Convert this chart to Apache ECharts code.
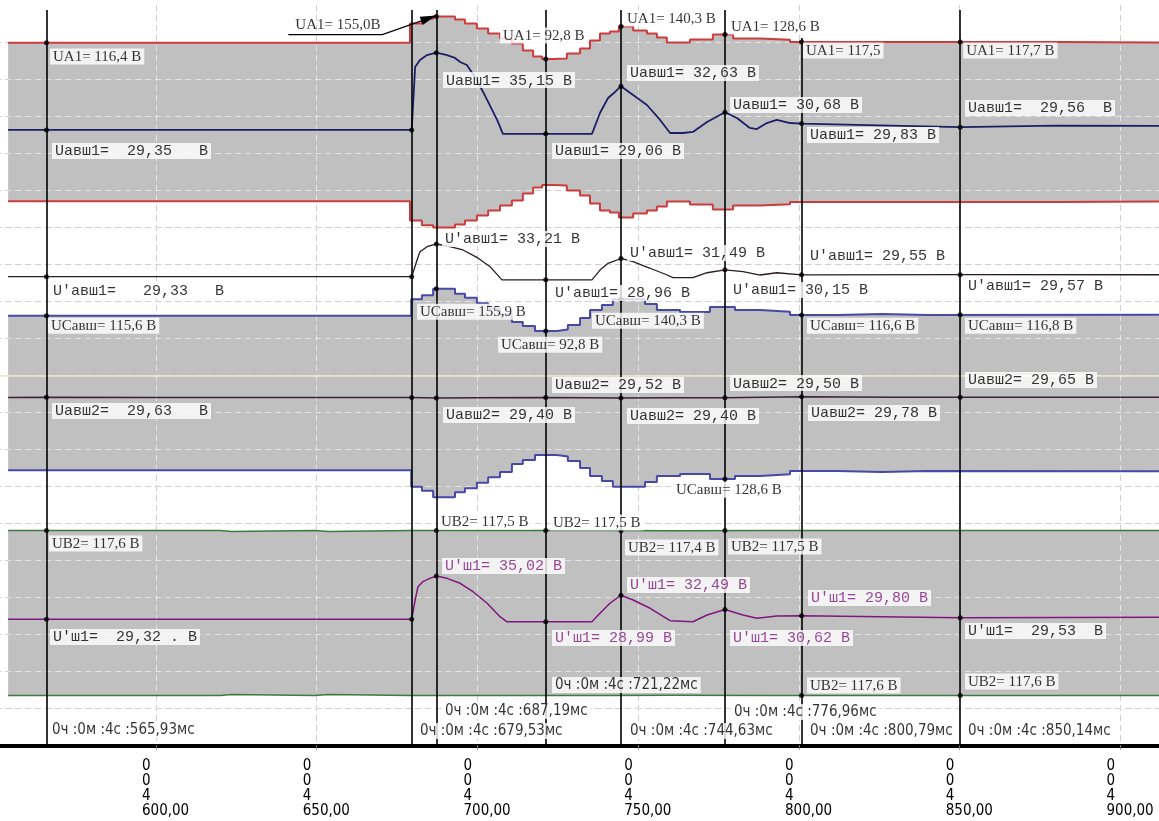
<!DOCTYPE html>
<html>
<head>
<meta charset="utf-8">
<script src="https://cdn.jsdelivr.net/npm/echarts@6/dist/echarts.min.js"></script>
<style>
  html, body { margin: 0; padding: 0; background: #ffffff; }
  #chart { width: 1159px; height: 821px; }
</style>
</head>
<body>
<div id="chart"></div>
<script>
// ---------------- time axis (ms inside second 4) ----------------
const tickValues = [600, 650, 700, 750, 800, 850, 900];
const tickPrefix = ['0', '0', '4'];          // hours / minutes / seconds rows
const cursorTimes = [565.93, 679.53, 687.19, 721.22, 744.63, 776.96, 800.79, 850.14];

// ---------------- RMS envelopes, step records (value holds until next time) ----------------
const ua1Times  = [554.0, 679.0, 682.7, 686.2, 693.0, 696.1, 699.8, 703.3, 707.0, 710.7, 714.1, 717.3, 720.1, 723.5, 727.8, 731.9,
                   735.0, 738.1, 741.2, 744.0, 748.4, 752.7, 755.8, 758.9, 766.1, 773.2, 779.5, 787.9, 797.2, 830.0, 881.0, 912.0];
const ua1Values = [116.4, 145.0, 152.0, 155.0, 150.7, 144.9, 137.5, 130.1, 122.8, 115.4, 105.1, 96.3, 92.8, 93.4, 100.7, 108.1,
                   119.9, 130.1, 133.1, 140.3, 134.6, 130.1, 124.3, 116.9, 121.3, 128.6, 122.8, 121.0, 117.5, 117.7, 116.9, 116.9];

const ucTimes  = [554.0, 679.4, 682.7, 686.2, 693.0, 696.1, 699.8, 703.3, 707.0, 710.7, 714.1, 717.9, 724.7, 728.1, 731.9,
                  735.0, 738.7, 742.1, 752.1, 755.8, 763.0, 772.3, 780.1, 787.9, 797.2, 811.8, 825.8, 840.0, 912.0];
const ucValues = [115.6, 140.0, 146.0, 155.9, 148.4, 142.5, 134.0, 126.0, 118.0, 106.0, 100.0, 92.8, 95.0, 101.6, 112.0,
                  124.0, 131.5, 140.3, 133.0, 124.0, 121.0, 128.6, 124.0, 121.5, 116.6, 118.0, 116.6, 116.8, 116.8];

const ub2Times  = [554.0, 620.0, 623.5, 649.4, 653.6, 679.53, 740.0, 760.0, 790.0, 912.0];
const ub2Values = [117.6, 116.2, 117.6, 116.2, 117.6, 117.5, 117.4, 117.5, 117.6, 117.6];

// ---------------- DC traces ----------------
const uavsh1Times  = [554.0, 565.93, 679.53, 680.6, 682.1, 684.3, 687.19, 690.5, 693.0, 694.6, 696.7, 699.8, 703.0, 706.1, 707.9,
                      721.22, 735.6, 738.1, 740.6, 742.8, 744.63, 748.4, 752.7, 756.8, 759.9, 763.9, 767.0, 771.4, 776.96,
                      780.7, 784.7, 786.9, 790.0, 793.1, 797.2, 800.79, 825.0, 850.14, 880.0, 912.0];
const uavsh1Values = [29.35, 29.35, 29.35, 34.07, 34.60, 34.97, 35.15, 34.97, 34.75, 34.45, 34.22, 33.10, 31.60, 30.10, 29.06,
                      29.06, 29.06, 30.62, 31.75, 32.20, 32.63, 31.97, 31.22, 30.10, 29.12, 29.12, 29.20, 29.95, 30.68,
                      30.25, 29.50, 29.42, 29.87, 30.10, 29.87, 29.83, 29.70, 29.56, 29.68, 29.65];

const u1Times  = [554.0, 565.93, 679.53, 681.2, 682.1, 684.3, 687.19, 691.4, 695.5, 699.8, 703.9, 707.6, 721.22, 735.6, 738.1,
                  740.6, 744.63, 748.4, 753.7, 759.0, 760.8, 767.0, 771.4, 776.96, 782.6, 787.9, 793.1, 800.79, 850.14, 912.0];
const u1Values = [29.33, 29.33, 29.33, 31.31, 32.30, 32.89, 33.21, 32.89, 32.50, 31.63, 30.52, 28.96, 28.96, 28.96, 30.12,
                  30.92, 31.49, 31.11, 30.33, 29.53, 29.21, 29.21, 29.80, 30.15, 29.92, 29.53, 29.80, 29.55, 29.57, 29.56];

const uavsh2Times  = [554.0, 565.93, 600.0, 640.0, 679.53, 687.19, 700.0, 721.22, 744.63, 760.0, 776.96, 800.79, 830.0, 850.14, 912.0];
const uavsh2Values = [29.58, 29.63, 29.55, 29.58, 29.55, 29.40, 29.50, 29.52, 29.40, 29.50, 29.50, 29.78, 29.60, 29.65, 29.60];

const ush1Times  = [554.0, 565.93, 679.53, 680.6, 681.5, 683.0, 685.2, 687.19, 690.5, 694.6, 698.6, 703.0, 707.0, 709.2, 721.22,
                    735.6, 738.1, 741.2, 744.63, 748.4, 753.7, 759.9, 767.0, 771.4, 776.96, 782.6, 786.9, 793.1, 800.79, 850.14, 912.0];
const ush1Values = [29.32, 29.32, 29.32, 31.86, 33.61, 34.27, 34.71, 35.02, 34.71, 34.06, 32.95, 31.43, 29.66, 28.99, 28.99,
                    28.99, 30.11, 31.43, 32.49, 31.86, 30.77, 29.14, 29.00, 29.89, 30.62, 29.89, 29.45, 29.75, 29.80, 29.53, 29.60];

// ---------------- cursor readings (one per cursor time, null = none) ----------------
const ua1AtCursor    = [116.4, null, 155.0, 92.8, 140.3, 128.6, 117.5, 117.7];
const uavsh1AtCursor = [29.35, 29.35, 35.15, 29.06, 32.63, 30.68, 29.83, 29.56];
const u1AtCursor     = [29.33, 29.33, 33.21, 28.96, 31.49, 30.15, 29.55, 29.57];
const ucAtCursor     = [115.6, null, 155.9, 92.8, 140.3, 128.6, 116.6, 116.8];
const uavsh2AtCursor = [29.63, 29.55, 29.40, 29.52, 29.40, 29.50, 29.78, 29.65];
const ub2AtCursor    = [117.6, null, 117.5, 117.5, 117.4, 117.5, 117.6, 117.6];
const ush1AtCursor   = [29.32, 29.32, 35.02, 28.99, 32.49, 30.62, 29.80, 29.53];

// ---------------- reading captions ----------------
const ua1Text    = ['UA1= {v} В', null, 'UA1= {v}В', 'UA1= {v} В', 'UA1= {v} В', 'UA1= {v} В', 'UA1= {v}', 'UA1= {v} В'];
const uavsh1Text = ['Uавш1=  {v}   В', null, 'Uавш1= {v} В', 'Uавш1= {v} В', 'Uавш1= {v} В', 'Uавш1= {v} В', 'Uавш1= {v} В', 'Uавш1=  {v}  В'];
const u1Text     = ["U'авш1=   {v}   В", null, "U'авш1= {v} В", "U'авш1= {v} В", "U'авш1= {v} В", "U'авш1= {v} В", "U'авш1= {v} В", "U'авш1= {v} В"];
const ucText     = ['UCавш= {v} В', null, 'UCавш= {v} В', 'UCавш= {v} В', 'UCавш= {v} В', 'UCавш= {v} В', 'UCавш= {v} В', 'UCавш= {v} В'];
const uavsh2Text = ['Uавш2=  {v}   В', null, 'Uавш2= {v} В', 'Uавш2= {v} В', 'Uавш2= {v} В', 'Uавш2= {v} В', 'Uавш2= {v} В', 'Uавш2= {v} В'];
const ub2Text    = ['UB2= {v} В', null, 'UB2= {v} В', 'UB2= {v} В', 'UB2= {v} В', 'UB2= {v} В', 'UB2= {v} В', 'UB2= {v} В'];
const ush1Text   = ["U'ш1=  {v} . В", null, "U'ш1= {v} В", "U'ш1= {v} В", "U'ш1= {v} В", "U'ш1= {v} В", "U'ш1= {v} В", "U'ш1=  {v}  В"];

// ---------------- layout ----------------
const W = 1159, H = 821;
const PLOT = { top: 5, bottom: 745.5, left: -4.75, right: W };
const X_MIN = 550, PX_PER_MS = 3.215;
const X_MAX = X_MIN + (PLOT.right - PLOT.left) / PX_PER_MS;
const GRID_ROWS = 20;

// each channel: value refV sits at pixel row refPx, scaled by pxPerUnit
const CHANNEL = {
  ua1:    { refV: 0,      refPx: 122,    k: 0.68 },
  uavsh1: { refV: 30.894, refPx: 109.37, k: 13.33 },
  u1:     { refV: 29.33,  refPx: 276.7,  k: 8.43 },
  uc:     { refV: 0,      refPx: 393,    k: 0.669 },
  uavsh2: { refV: 29.55,  refPx: 397.5,  k: 3 },
  ub2:    { refV: 0,      refPx: 613,    k: 0.7016 },
  ush1:   { refV: 29.32,  refPx: 619.3,  k: 7.6 }
};
const AX = { gridLo: 0, gridHi: 1, ua1: 2, uavsh1: 3, u1: 4, uc: 5, uavsh2: 6, ub2: 7, ush1: 8 };

// upper end of each cursor line, px from the top
const cursorTopPx = [10, 10, 10, 10, 10, 10, 38, 10];

// which edge of an envelope the cursor dot sits on (+1 upper, -1 lower)
const ucSide  = [1, 1, 1, 1, 1, -1, 1, 1];
const ub2Side = [1, 1, 1, 1, 1, 1, -1, -1];

// caption box offsets from the cursor dot, px
const ua1Off    = [[3.5, 5.6], null, [-141, 1], [-45.7, -31.4], [3, -16], [3, -16], [1.5, 0.4], [3, 0.5]];
const uavsh1Off = [[5.5, 13], null, [6.7, 19.4], [6.3, 9.2], [6, -21.2], [5.1, -15.2], [5.5, 3.4], [4.8, -27.2]];
const u1Off     = [[3.5, 6.3], null, [5.7, -13], [6.3, 5.2], [6, -13.5], [5.1, 12.2], [5.5, -27.8], [4.8, 3.3]];
const ucOff     = [[1.5, 2], null, [-19.3, 15], [-47.7, 5.8], [-29, 13.6], [-51.9, 2.7], [5.5, 2.7], [4.8, 2.8]];
const uavsh2Off = [[5.5, 5.7], null, [6.7, 9], [6.3, -20.6], [6, 10], [5.1, -22.6], [6.5, 8.2], [4.8, -25.2]];
const ub2Off    = [[2.5, 5], null, [1.7, -17], [4.3, -16], [4, 8.9], [3.1, 8], [5.5, -18], [4.8, -22]];
const ush1Off   = [[3.5, 9.7], null, [5.7, -18], [6.3, 8.2], [6, -18.2], [5.1, 20.6], [6.5, -25.7], [4.8, 5.3]];
const timeOff   = [[2.5, -23.5], [5.2, -22.5], [5.7, -42.5], [6.3, -68.5], [6, -22.5], [6, -41.5], [5.5, -22.5], [4.8, -22.5]];

const SERIF  = "'Liberation Serif','Times New Roman',serif";
const MONO   = "'Liberation Mono','Courier New',monospace";
const NARROW = "'Liberation Sans Narrow','Arial Narrow','DejaVu Sans Condensed',sans-serif";

const FILL = '#c0c0c0';
const RED = '#cc3c3c', BLUE = '#4848a6', GREEN = '#3d7a3d';
const NAVY = '#1e1e66', DARK = '#2c1c1c', DARK2 = '#3a2436', PURPLE = '#7e187e';
const DOT = 5;

// ---------------- helpers ----------------
const fmt = (v, d) => v.toFixed(d).replace('.', ',');
const pairs = (ts, vs, f = 1) => ts.map((t, i) => [t, vs[i] * f]);
const gridRowOf = px => (PLOT.bottom - px) / (PLOT.bottom - PLOT.top) * GRID_ROWS;

function channelAxis(key) {
  const c = CHANNEL[key];
  return {
    type: 'value', gridIndex: 0, show: false,
    min: c.refV - (PLOT.bottom - c.refPx) / c.k,
    max: c.refV + (c.refPx - PLOT.top) / c.k
  };
}

function gridAxisY(color, z) {
  return {
    type: 'value', gridIndex: 0, min: 0, max: GRID_ROWS, interval: 1, z: z,
    axisLine: { show: false }, axisTick: { show: false }, axisLabel: { show: false },
    splitLine: { show: true, showMinLine: false, showMaxLine: false,
                 lineStyle: { color: color, width: 1, type: [6, 4] } }
  };
}

// gray band of an envelope channel: both halves filled towards the zero row
function envelopeFill(name, axis, ts, vs) {
  const base = { type: 'line', yAxisIndex: axis, step: 'end', showSymbol: false, silent: true, z: 2,
                 lineStyle: { width: 0, opacity: 0 }, areaStyle: { color: FILL, opacity: 1, origin: 0 } };
  return [
    Object.assign({ name: name + '-fill-upper', data: pairs(ts, vs) }, base),
    Object.assign({ name: name + '-fill-lower', data: pairs(ts, vs, -1) }, base)
  ];
}

function envelopeLines(name, axis, ts, vs, color, width) {
  const base = { type: 'line', yAxisIndex: axis, step: 'end', showSymbol: false, silent: true, z: 4,
                 lineStyle: { color: color, width: width } };
  return [
    Object.assign({ name: name, data: pairs(ts, vs) }, base),
    Object.assign({ name: name + '-lower', data: pairs(ts, vs, -1) }, base)
  ];
}

function trace(name, axis, ts, vs, color, width) {
  return { name: name, type: 'line', yAxisIndex: axis, data: pairs(ts, vs), showSymbol: false, silent: true, z: 4,
           lineStyle: { color: color, width: width } };
}

function readings(name, axis, values, texts, offsets, digits, font, opts) {
  opts = opts || {};
  const data = [];
  values.forEach((v, i) => {
    if (v == null) return;
    const side = opts.side ? opts.side[i] : 1;
    const item = { value: [cursorTimes[i], side * v] };
    if (texts[i]) {
      const off = offsets[i];
      const bare = opts.bare === i;
      item.label = {
        show: true,
        formatter: texts[i].replace('{v}', fmt(v, digits)),
        position: [off[0] + DOT / 2, off[1] + DOT / 2],
        color: opts.colors ? opts.colors[i] : '#000',
        backgroundColor: bare ? 'transparent' : '#ffffff',
        padding: bare ? 0 : [1, 3, 0, 3]
      };
    } else {
      item.label = { show: false };
    }
    data.push(item);
  });
  return {
    name: name + '-readings', type: 'scatter', yAxisIndex: axis, data: data, z: 6, silent: true, clip: false,
    symbol: 'circle', symbolSize: DOT, itemStyle: { color: '#000' },
    label: { show: true, fontFamily: font, fontSize: 15, color: '#000', align: 'left', verticalAlign: 'top' }
  };
}

const ush1Colors = ['#000', '#000', PURPLE, PURPLE, PURPLE, PURPLE, PURPLE, '#000'];

const timeAnchors = {
  name: 'cursor-time', type: 'scatter', yAxisIndex: AX.gridLo, z: 6, silent: true, clip: false,
  symbol: 'circle', symbolSize: 1, itemStyle: { color: 'rgba(0,0,0,0)' },
  data: cursorTimes.map((t, i) => ({
    value: [t, 0],
    label: { show: true, formatter: '0ч :0м :4с :' + fmt(t, 2) + 'мс',
             position: [timeOff[i][0] + 0.5, timeOff[i][1] + 0.5] }
  })),
  label: { fontFamily: NARROW, fontSize: 15, color: '#000', backgroundColor: '#ffffff',
           padding: [1, 3, 0, 3], align: 'left', verticalAlign: 'top' }
};

const cursors = {
  name: 'cursors', type: 'line', yAxisIndex: AX.gridLo, data: [], silent: true, z: 5,
  markLine: { silent: true, symbol: ['none', 'none'], label: { show: false }, animation: false,
              lineStyle: { color: '#000', width: 1.6, type: 'solid' },
              data: cursorTimes.map((t, i) => [
                { coord: [t, gridRowOf(cursorTopPx[i])] },
                { coord: [t, 0] }
              ]) }
};

const refLine = {
  name: 'reference', type: 'line', yAxisIndex: AX.gridLo, data: [], silent: true, z: 3,
  markLine: { silent: true, symbol: ['none', 'none'], label: { show: false }, animation: false,
              lineStyle: { color: '#ecebc6', width: 1.5, type: 'solid' },
              data: [{ yAxis: GRID_ROWS / 2 }] }
};

const option = {
  animation: false,
  backgroundColor: '#ffffff',
  grid: { left: PLOT.left, top: PLOT.top, width: PLOT.right - PLOT.left, height: PLOT.bottom - PLOT.top,
          containLabel: false, outerBoundsMode: 'none' },
  xAxis: [
    { type: 'value', gridIndex: 0, min: X_MIN, max: X_MAX, interval: 50, position: 'bottom', z: 0,
      axisLine: { show: true, onZero: false, lineStyle: { color: '#000', width: 4 } },
      axisTick: { show: true, length: 4, lineStyle: { color: '#777' } },
      axisLabel: { show: true, showMinLabel: false, showMaxLabel: false, margin: 13,
                   align: 'left', padding: [0, 0, 0, -14],
                   fontFamily: NARROW, fontSize: 15, lineHeight: 15, color: '#000',
                   formatter: v => tickValues.indexOf(v) < 0 ? '' : tickPrefix.join('\n') + '\n' + fmt(v, 2) },
      splitLine: { show: true, showMinLine: false, showMaxLine: false,
                   lineStyle: { color: '#979797', width: 1, type: [6, 4] } } },
    { type: 'value', gridIndex: 0, min: X_MIN, max: X_MAX, interval: 50, position: 'top', z: 3,
      axisLine: { show: false }, axisTick: { show: false }, axisLabel: { show: false },
      splitLine: { show: true, showMinLine: false, showMaxLine: false,
                   lineStyle: { color: 'rgba(255,255,255,0.55)', width: 1, type: [6, 4] } } }
  ],
  yAxis: [
    gridAxisY('#979797', 0),
    gridAxisY('rgba(255,255,255,0.55)', 3),
    channelAxis('ua1'), channelAxis('uavsh1'), channelAxis('u1'), channelAxis('uc'),
    channelAxis('uavsh2'), channelAxis('ub2'), channelAxis('ush1')
  ],
  series: [].concat(
    envelopeFill('UA1', AX.ua1, ua1Times, ua1Values),
    envelopeFill('UCавш', AX.uc, ucTimes, ucValues),
    envelopeFill('UB2', AX.ub2, ub2Times, ub2Values),
    [refLine],
    envelopeLines('UA1', AX.ua1, ua1Times, ua1Values, RED, 2),
    envelopeLines('UCавш', AX.uc, ucTimes, ucValues, BLUE, 2),
    envelopeLines('UB2', AX.ub2, ub2Times, ub2Values, GREEN, 1.5),
    [
      trace('Uавш1', AX.uavsh1, uavsh1Times, uavsh1Values, NAVY, 1.8),
      trace("U'авш1", AX.u1, u1Times, u1Values, DARK, 1.3),
      trace('Uавш2', AX.uavsh2, uavsh2Times, uavsh2Values, DARK2, 1.5),
      trace("U'ш1", AX.ush1, ush1Times, ush1Values, PURPLE, 1.5),
      cursors,
      readings('UA1', AX.ua1, ua1AtCursor, ua1Text, ua1Off, 1, SERIF, { bare: 2 }),
      readings('Uавш1', AX.uavsh1, uavsh1AtCursor, uavsh1Text, uavsh1Off, 2, MONO),
      readings("U'авш1", AX.u1, u1AtCursor, u1Text, u1Off, 2, MONO),
      readings('UCавш', AX.uc, ucAtCursor, ucText, ucOff, 1, SERIF, { side: ucSide }),
      readings('Uавш2', AX.uavsh2, uavsh2AtCursor, uavsh2Text, uavsh2Off, 2, MONO),
      readings('UB2', AX.ub2, ub2AtCursor, ub2Text, ub2Off, 1, SERIF, { side: ub2Side }),
      readings("U'ш1", AX.ush1, ush1AtCursor, ush1Text, ush1Off, 2, MONO, { colors: ush1Colors }),
      timeAnchors
    ]
  )
};

const chart = echarts.init(document.getElementById('chart'), null, { renderer: 'canvas', width: W, height: H });
chart.setOption(option);

// leader with arrow from the peak caption to the UA1 peak reading
const peak = chart.convertToPixel({ xAxisIndex: 0, yAxisIndex: AX.ua1 }, [cursorTimes[2], ua1AtCursor[2]]);
const P = (dx, dy) => [peak[0] + dx, peak[1] + dy];
chart.setOption({
  graphic: [
    { type: 'polyline', silent: true, z: 20,
      shape: { points: [P(-148, 18), P(-54, 18), P(-15, 4.3)] },
      style: { stroke: '#000', lineWidth: 1.2, fill: null } },
    { type: 'polygon', silent: true, z: 20,
      shape: { points: [P(0, -1), P(-13.6, 8.5), P(-16.6, 0.1)] },
      style: { fill: '#000' } }
  ]
});
</script>
</body>
</html>
